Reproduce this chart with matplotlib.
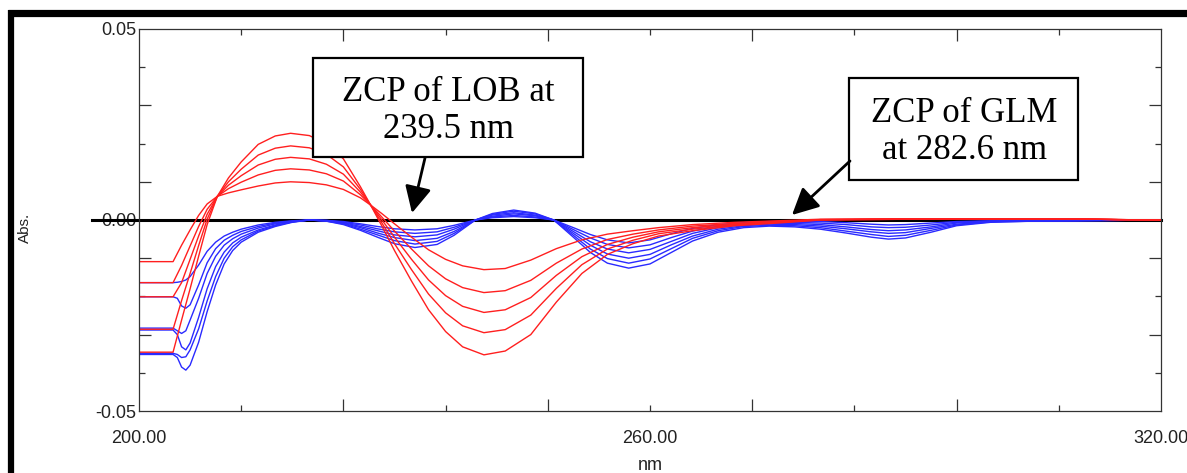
import matplotlib
matplotlib.use("Agg")
import matplotlib.pyplot as plt
from matplotlib.lines import Line2D
from matplotlib.patches import Rectangle

# ---------------- data ----------------
red_wl = [200, 204, 205, 206, 207, 208, 209.2, 210.5, 212, 214, 216, 217.8,
          220, 222, 224, 226, 227.2, 228.5, 230, 232, 234, 236, 238, 240.5,
          243, 246, 249, 252, 255, 258, 261, 265, 270, 275, 280, 290, 300,
          310, 315, 320]
red_1 = [-0.0109, -0.0109, -0.0066, -0.0026, 0.0012, 0.0042, 0.0062, 0.0071, 0.0079, 0.0089, 0.0097, 0.0100,
         0.0098, 0.0092, 0.0080, 0.0058, 0.0039, 0.0017, -0.0010, -0.0045, -0.0078, -0.0103, -0.0120, -0.0130,
         -0.0127, -0.0105, -0.0075, -0.0052, -0.0037, -0.0028, -0.0020, -0.0012, -0.0006, -0.0002, 0.0002, 0.0003, 0.0003,
         0.0003, 0.0001, 0.0000]
red_2 = [-0.0164, -0.0164, -0.0119, -0.0068, -0.0017, 0.0028, 0.0062, 0.0082, 0.0099, 0.0118, 0.0130, 0.0134,
         0.0131, 0.0121, 0.0102, 0.0066, 0.0039, 0.0008, -0.0029, -0.0076, -0.0120, -0.0154, -0.0177, -0.0190,
         -0.0185, -0.0158, -0.0113, -0.0076, -0.0051, -0.0037, -0.0026, -0.0016, -0.0009, -0.0004, 0.0001, 0.0003, 0.0003,
         0.0003, 0.0001, 0.0000]
red_3 = [-0.0201, -0.0201, -0.0164, -0.0103, -0.0042, 0.0015, 0.0062, 0.0091, 0.0116, 0.0144, 0.0159, 0.0164,
         0.0160, 0.0146, 0.0120, 0.0073, 0.0039, 0.0001, -0.0045, -0.0103, -0.0157, -0.0198, -0.0226, -0.0242,
         -0.0235, -0.0203, -0.0145, -0.0096, -0.0064, -0.0045, -0.0031, -0.0020, -0.0011, -0.0005, 0.0001, 0.0003, 0.0003,
         0.0003, 0.0001, 0.0000]
red_4 = [-0.0286, -0.0286, -0.0211, -0.0140, -0.0067, 0.0002, 0.0062, 0.0100, 0.0133, 0.0170, 0.0188, 0.0194,
         0.0189, 0.0172, 0.0139, 0.0080, 0.0039, -0.0007, -0.0062, -0.0130, -0.0194, -0.0243, -0.0277, -0.0295,
         -0.0287, -0.0249, -0.0179, -0.0117, -0.0076, -0.0053, -0.0036, -0.0024, -0.0013, -0.0006, 0.0000, 0.0002, 0.0003,
         0.0003, 0.0001, 0.0000]
red_5 = [-0.0346, -0.0346, -0.0262, -0.0180, -0.0095, -0.0012, 0.0062, 0.0110, 0.0152, 0.0198, 0.0220, 0.0227,
         0.0221, 0.0200, 0.0160, 0.0087, 0.0039, -0.0015, -0.0080, -0.0160, -0.0235, -0.0292, -0.0332, -0.0353,
         -0.0343, -0.0300, -0.0215, -0.0140, -0.0090, -0.0062, -0.0042, -0.0028, -0.0015, -0.0008, 0.0000, 0.0002, 0.0003,
         0.0003, 0.0001, 0.0000]

blue_wl = [200, 204, 204.5, 205, 205.5, 206, 207, 208, 209, 210, 211, 212, 214, 216, 218, 220,
           222, 224, 226, 228, 230, 232.4, 235, 237, 239.5, 241.5, 244, 246.5, 248.7, 251, 253, 255,
           257.5, 260, 262.5, 265, 268, 271, 274, 277, 280, 283, 286, 288, 290, 293, 296, 300, 305,
           310, 315, 320]
blue_1 = [-0.0164, -0.0164, -0.0163, -0.0161, -0.0157, -0.0148, -0.0118, -0.0082, -0.0058, -0.0042, -0.0032, -0.0024, -0.0013, -0.0006, -0.0002, 0.0000,
          -0.0001, -0.0004, -0.0010, -0.0017, -0.0023, -0.0026, -0.0023, -0.0014, 0.0000, 0.0006, 0.0009, 0.0006, 0.0000, -0.0020, -0.0038, -0.0052,
          -0.0060, -0.0052, -0.0036, -0.0022, -0.0012, -0.0007, -0.0004, -0.0003, -0.0004, -0.0007, -0.0011, -0.0013, -0.0012, -0.0008, -0.0004, -0.0002, -0.0001,
          -0.0001, 0.0000, 0.0000]
blue_2 = [-0.0201, -0.0201, -0.0205, -0.0225, -0.0231, -0.0222, -0.0170, -0.0112, -0.0075, -0.0053, -0.0040, -0.0030, -0.0017, -0.0008, -0.0003, 0.0000,
          -0.0001, -0.0006, -0.0013, -0.0023, -0.0031, -0.0035, -0.0031, -0.0019, 0.0000, 0.0008, 0.0012, 0.0008, 0.0000, -0.0025, -0.0047, -0.0064,
          -0.0073, -0.0065, -0.0046, -0.0029, -0.0016, -0.0010, -0.0006, -0.0006, -0.0008, -0.0012, -0.0018, -0.0020, -0.0019, -0.0013, -0.0006, -0.0003, -0.0001,
          -0.0001, 0.0000, 0.0000]
blue_3 = [-0.0283, -0.0283, -0.0290, -0.0297, -0.0290, -0.0262, -0.0205, -0.0140, -0.0095, -0.0066, -0.0049, -0.0037, -0.0021, -0.0010, -0.0004, 0.0000,
          -0.0002, -0.0007, -0.0017, -0.0028, -0.0039, -0.0044, -0.0039, -0.0024, 0.0000, 0.0010, 0.0016, 0.0011, 0.0000, -0.0030, -0.0057, -0.0076,
          -0.0086, -0.0077, -0.0056, -0.0035, -0.0020, -0.0012, -0.0009, -0.0009, -0.0012, -0.0018, -0.0025, -0.0028, -0.0026, -0.0018, -0.0008, -0.0004, -0.0002,
          -0.0001, 0.0000, 0.0000]
blue_4 = [-0.0288, -0.0288, -0.0300, -0.0332, -0.0340, -0.0322, -0.0255, -0.0180, -0.0122, -0.0084, -0.0060, -0.0045, -0.0026, -0.0013, -0.0005, 0.0000,
          -0.0002, -0.0009, -0.0020, -0.0034, -0.0046, -0.0054, -0.0048, -0.0030, 0.0000, 0.0013, 0.0019, 0.0013, 0.0000, -0.0035, -0.0066, -0.0089,
          -0.0100, -0.0090, -0.0065, -0.0042, -0.0024, -0.0015, -0.0011, -0.0012, -0.0016, -0.0023, -0.0031, -0.0035, -0.0033, -0.0022, -0.0011, -0.0004, -0.0002,
          -0.0002, -0.0001, 0.0000]
blue_5 = [-0.0349, -0.0349, -0.0352, -0.0360, -0.0358, -0.0340, -0.0285, -0.0212, -0.0148, -0.0100, -0.0070, -0.0052, -0.0029, -0.0015, -0.0005, 0.0000,
          -0.0003, -0.0010, -0.0024, -0.0039, -0.0054, -0.0063, -0.0056, -0.0035, 0.0000, 0.0015, 0.0023, 0.0016, 0.0000, -0.0040, -0.0076, -0.0101,
          -0.0113, -0.0102, -0.0075, -0.0048, -0.0028, -0.0017, -0.0014, -0.0015, -0.0020, -0.0029, -0.0038, -0.0043, -0.0040, -0.0027, -0.0013, -0.0005, -0.0003,
          -0.0002, -0.0001, 0.0000]
blue_6 = [-0.0352, -0.0352, -0.0360, -0.0385, -0.0393, -0.0380, -0.0320, -0.0240, -0.0170, -0.0115, -0.0080, -0.0058, -0.0032, -0.0017, -0.0006, 0.0000,
          -0.0003, -0.0012, -0.0027, -0.0045, -0.0062, -0.0072, -0.0064, -0.0040, 0.0000, 0.0017, 0.0026, 0.0018, 0.0000, -0.0045, -0.0085, -0.0113,
          -0.0126, -0.0115, -0.0085, -0.0055, -0.0032, -0.0020, -0.0016, -0.0018, -0.0024, -0.0034, -0.0045, -0.0050, -0.0047, -0.0032, -0.0015, -0.0006, -0.0003,
          -0.0002, -0.0001, 0.0000]

x_major = [224, 248, 272, 296]
x_minor = [212, 236, 260, 284, 308]
x_labels = [200, 260, 320]
y_major = [-0.03, -0.01, 0.01, 0.03]
y_minor = [-0.04, -0.02, 0.02, 0.04]
y_labels = [-0.05, 0.0, 0.05]

red_series = [red_1, red_2, red_3, red_4, red_5]
blue_series = [blue_1, blue_2, blue_3, blue_4, blue_5, blue_6]

# ---------------- figure ----------------
W, H = 1187, 473
fig = plt.figure(figsize=(W / 100, H / 100), dpi=100)
L, R, T, B = 139, 1161, 29, 411
ax = fig.add_axes([L / W, 1 - B / H, (R - L) / W, (B - T) / H])
ax.set_xlim(200, 320)
ax.set_ylim(-0.05, 0.05)

# zero line
ax.axhline(0, xmin=-0.046, xmax=1, color="black", lw=2.2, zorder=1.5, clip_on=False)

for s in blue_series:
    ax.plot(blue_wl, s, color="#2a2aff", lw=1.0, zorder=2)
for s in red_series:
    ax.plot(red_wl, s, color="#ff1f1f", lw=1.0, zorder=2.1)

# ticks
for sp in ax.spines.values():
    sp.set_linewidth(0.9)
    sp.set_color("#333333")
ax.set_xticks(x_major)
ax.set_xticks(x_minor, minor=True)
ax.set_yticks(y_major)
ax.set_yticks(y_minor, minor=True)
ax.tick_params(which="both", direction="in", top=True, right=True,
               labelbottom=False, labelleft=False, color="#333333", width=0.9)
ax.tick_params(which="major", length=8.5)
ax.tick_params(which="minor", length=4)

fs = 13
secx = ax.secondary_xaxis("bottom")
secx.set_xticks(x_labels)
secx.set_xticklabels(["%.2f" % v for v in x_labels], fontsize=fs, family="Liberation Sans")
secx.tick_params(length=0, pad=14, colors="#222222")
secx.spines["bottom"].set_visible(False)

secy = ax.secondary_yaxis("left")
secy.set_yticks(y_labels)
secy.set_yticklabels(["%.2f" % v for v in y_labels], fontsize=fs, family="Liberation Sans")
secy.tick_params(length=0, pad=2, colors="#222222")
secy.spines["left"].set_visible(False)

fig.text(25 / W, 1 - 228 / H, "Abs.", rotation=90, ha="center", va="center",
         fontsize=11, family="Liberation Sans", color="#222222")
fig.text(650 / W, 1 - 457 / H, "nm", ha="center", va="top",
         fontsize=13, family="Liberation Sans", color="#222222")

# annotation boxes
def ax_pt(px, py):
    return ((px - L) / (R - L), (B - py) / (B - T))

for (x0, y0, x1, y1) in [(313, 58, 583, 157), (849, 78, 1078, 180)]:
    a0 = ax_pt(x0, y1)
    a1 = ax_pt(x1, y0)
    ax.add_patch(Rectangle(a0, a1[0] - a0[0], a1[1] - a0[1], transform=ax.transAxes,
                           facecolor="white", edgecolor="black", lw=1.6, zorder=5, clip_on=False))

ax.text(*ax_pt(448, 111), "ZCP of LOB at\n239.5 nm", transform=ax.transAxes, ha="center",
        va="center", fontsize=25, family="Liberation Serif", linespacing=1.15, zorder=6)
ax.text(*ax_pt(964, 132), "ZCP of GLM\nat 282.6 nm", transform=ax.transAxes, ha="center",
        va="center", fontsize=25, family="Liberation Serif", linespacing=1.15, zorder=6)

for tail, head in [((425, 158), (412, 213)), ((850, 161), (792, 215))]:
    ax.annotate("", xy=ax_pt(*head), xycoords="axes fraction",
                xytext=ax_pt(*tail), textcoords="axes fraction",
                arrowprops=dict(arrowstyle="-|>,head_length=0.9,head_width=0.45",
                                lw=2, color="black", shrinkA=0, shrinkB=0,
                                mutation_scale=18), zorder=6)

# outer thick frame (top and left)
fig.add_artist(Line2D([8 / W, 1.0], [1 - 13.5 / H, 1 - 13.5 / H], color="black", lw=5.2,
                      transform=fig.transFigure, solid_capstyle="butt"))
fig.add_artist(Line2D([11 / W, 11 / W], [0, 1 - 10 / H], color="black", lw=4.5,
                      transform=fig.transFigure, solid_capstyle="butt"))

fig.savefig("out.png", dpi=100, facecolor="white")
